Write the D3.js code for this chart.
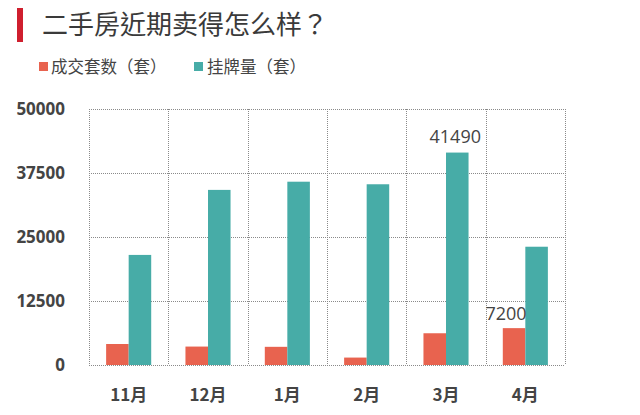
<!DOCTYPE html>
<html><head><meta charset="utf-8">
<script src="https://cdn.jsdelivr.net/npm/d3@7/dist/d3.min.js"></script>
<style>
html,body{margin:0;padding:0;background:#fff;}
svg{display:block;}
</style></head>
<body><svg id="c" width="640" height="415"></svg>
<script>
const title = "二手房近期卖得怎么样？";
const months = ["11月","12月","1月","2月","3月","4月"];
const seriesNames = ["成交套数（套）","挂牌量（套）"];
const deals = [4100, 3600, 3550, 1450, 6200, 7200];
const listings = [21500, 34200, 35800, 35300, 41490, 23100];
const yTicks = [0, 12500, 25000, 37500, 50000];
const colors = ["#e8634f", "#47aca7"];

const svg = d3.select("#c");
const L = 89, R = 565, T = 109, B = 365;

const x0 = d3.scaleBand().domain(months).range([L, R]).padding(0);
const x1 = d3.scaleBand().domain([0,1]).range([0, x0.bandwidth()]).paddingInner(0).paddingOuter(0.76);
const y = d3.scaleLinear().domain([0, 50000]).range([B, T]);

// title
svg.append("rect").attr("x",17).attr("y",8).attr("width",6).attr("height",34).attr("fill","#cf1f2e");
svg.append("text").attr("x",42).attr("y",34).text(title)
  .attr("font-family","'Noto Sans CJK TC'").attr("font-size",26).attr("fill","#3a3a3a");

// legend
const leg = [{x:39, tx:51}, {x:194, tx:207}];
seriesNames.forEach((n,i)=>{
  svg.append("rect").attr("x",leg[i].x).attr("y",62).attr("width",9).attr("height",9).attr("fill",colors[i]);
  svg.append("text").attr("x",leg[i].tx).attr("y",73).text(n)
    .attr("font-family","'Noto Sans CJK TC'").attr("font-size",16.5).attr("fill","#444");
});

// grid (dotted)
const grid = svg.append("g").attr("stroke","#8a8a8a").attr("stroke-width",1).attr("stroke-dasharray","1,1").attr("fill","none");
yTicks.forEach(t=>{
  grid.append("line").attr("x1",L).attr("x2",R).attr("y1",Math.round(y(t))+0.5).attr("y2",Math.round(y(t))+0.5);
});
months.forEach(m=>{
  const xx = Math.round(x0(m))+0.5;
  grid.append("line").attr("x1",xx).attr("x2",xx).attr("y1",T).attr("y2",B);
});
grid.append("line").attr("x1",R+0.5).attr("x2",R+0.5).attr("y1",T).attr("y2",B);

// y axis labels
const yAxis = d3.axisLeft(y).tickValues(yTicks).tickSize(0).tickPadding(0).tickFormat(d3.format("d"));
const ya = svg.append("g").attr("transform",`translate(${L-24},0)`).call(yAxis);
ya.select(".domain").remove();
ya.selectAll("text").attr("font-family","'Open Sans'").attr("font-weight","bold").attr("font-size",17).attr("fill","#444");

// x axis labels
const xAxis = d3.axisBottom(x0).tickSize(0).tickPadding(0);
const xa = svg.append("g").attr("transform",`translate(0,${B+24})`).call(xAxis);
xa.select(".domain").remove();
xa.selectAll("text").attr("font-family","'Noto Sans CJK SC'").attr("font-weight","bold").attr("font-size",17).attr("fill","#444");

// bars
const data = months.map((m,i)=>({m, v:[deals[i], listings[i]]}));
const g = svg.append("g");
data.forEach(d=>{
  d.v.forEach((v,j)=>{
    g.append("rect").attr("x",x0(d.m)+x1(j)).attr("width",x1.bandwidth())
      .attr("y",y(v)).attr("height",y(0)-y(v)).attr("fill",colors[j]);
  });
});

// value labels
svg.append("text").attr("x",x0("3月")+x1(1)+x1.bandwidth()/2-2).attr("y",y(41490)-10)
  .attr("text-anchor","middle").text(d3.format("d")(listings[4]))
  .attr("font-family","'Open Sans'").attr("font-size",18).attr("fill","#444");
svg.append("text").attr("x",x0("4月")+x1(0)+x1.bandwidth()/2-8).attr("y",y(7200)-8)
  .attr("text-anchor","middle").text(d3.format("d")(deals[5]))
  .attr("font-family","'Open Sans'").attr("font-size",18).attr("fill","#444");
</script></body></html>
